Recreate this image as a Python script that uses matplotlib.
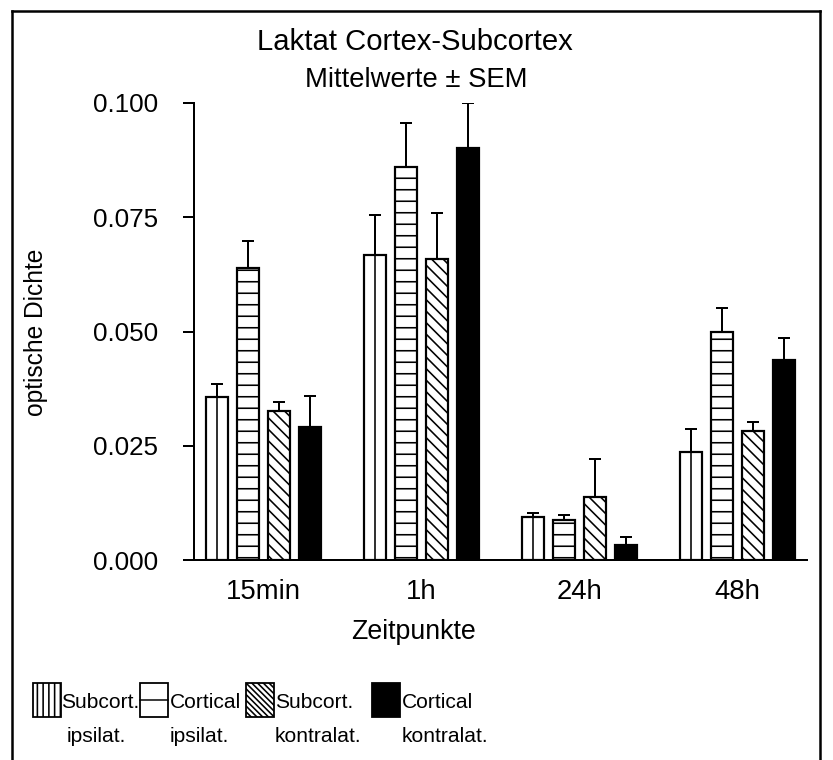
import matplotlib
matplotlib.use("Agg")
import matplotlib.pyplot as plt
import numpy as np
from matplotlib.patches import Rectangle
from matplotlib.lines import Line2D

# ---- data ----
categories = ["15min", "1h", "24h", "48h"]
legend_line1 = ["Subcort.", "Cortical", "Subcort.", "Cortical"]
legend_line2 = ["ipsilat.", "ipsilat.", "kontralat.", "kontralat."]
subcort_ipsi = [0.0356, 0.0667, 0.0095, 0.0237]
cortical_ipsi = [0.0640, 0.0859, 0.0088, 0.0500]
subcort_kontra = [0.0325, 0.0658, 0.0137, 0.0282]
cortical_kontra = [0.0290, 0.0901, 0.0032, 0.0438]
sem_subcort_ipsi = [0.0029, 0.0089, 0.0008, 0.0050]
sem_cortical_ipsi = [0.0059, 0.0097, 0.0010, 0.0051]
sem_subcort_kontra = [0.0020, 0.0102, 0.0084, 0.0021]
sem_cortical_kontra = [0.0068, 0.0100, 0.0019, 0.0048]
yticks = [0.0, 0.025, 0.05, 0.075, 0.1]
ytick_labels = ["0.000", "0.025", "0.050", "0.075", "0.100"]

W, H, DPI = 833, 760, 69
def pt(px):
    return px * 72.0 / DPI
def fx(x):
    return x / W
def fy(y):
    return 1 - y / H

plt.rcParams['font.family'] = ['Liberation Sans', 'DejaVu Sans']
plt.rcParams['hatch.linewidth'] = pt(1.6)

fig = plt.figure(figsize=(W / DPI, H / DPI), dpi=DPI)
ax = fig.add_axes([fx(194), fy(560), fx(807) - fx(194), fy(103) - fy(560)])

values = [subcort_ipsi, cortical_ipsi, subcort_kontra, cortical_kontra]
sems = [sem_subcort_ipsi, sem_cortical_ipsi, sem_subcort_kontra, sem_cortical_kontra]
hatches = [None, '-', '\\\\', None]
faces = ['white', 'white', 'white', 'black']
x = np.arange(len(categories))
step = 0.198
width = 0.139
for i, (vals, err) in enumerate(zip(values, sems)):
    pos = x + (i - 1.5) * step
    ax.bar(pos, vals, width=width, color=faces[i], edgecolor='black',
           hatch=hatches[i], linewidth=pt(2.2), zorder=2)
    if i == 0:
        # vertical hatch line through the middle of each bar
        ax.vlines(pos, 0, vals, colors='black', linewidth=pt(1.6), zorder=2.5)
    ax.errorbar(pos, vals, yerr=[np.zeros(len(vals)), err], fmt='none',
                ecolor='black', elinewidth=pt(2), capsize=pt(6), capthick=pt(2), zorder=3)

ax.set_xlim(-0.44, 3.44)
ax.set_ylim(0, 0.1)
ax.set_yticks(yticks)
ax.set_yticklabels(ytick_labels, fontsize=pt(26))
ax.set_xticks(x)
ax.set_xticklabels(categories, fontsize=pt(27.5))
ax.tick_params(axis='x', length=0, pad=pt(19))
ax.tick_params(axis='y', length=pt(11), width=pt(2), pad=pt(25))
for s in ['top', 'right']:
    ax.spines[s].set_visible(False)
ax.spines['left'].set_linewidth(pt(2))
ax.spines['bottom'].set_linewidth(pt(2))
fig.text(fx(36), fy(332), "optische Dichte", rotation=90, ha='center', va='center', fontsize=pt(24.5))
fig.text(fx(413), fy(632), "Zeitpunkte", ha='center', va='center', fontsize=pt(26.8))

# title
fig.text(fx(415), fy(42), "Laktat Cortex-Subcortex", ha='center', va='center', fontsize=pt(29.3))
fig.text(fx(416), fy(80), "Mittelwerte ± SEM", ha='center', va='center', fontsize=pt(27.5))

# legend (manual)
leg_x = [33, 140, 246, 372]
txt1_x = [61, 170, 275, 402]
txt2_x = [67, 170, 275, 402]
for i in range(4):
    r = Rectangle((fx(leg_x[i]), fy(717)), fx(leg_x[i] + 28) - fx(leg_x[i]), fy(683) - fy(717),
                  transform=fig.transFigure, facecolor=faces[i], edgecolor='black',
                  linewidth=pt(1.8), hatch=(None if i in (1, 3) else ('||' if i == 0 else '\\\\\\\\')))
    fig.add_artist(r)
    if i == 1:
        fig.add_artist(Line2D([fx(leg_x[i]), fx(leg_x[i] + 28)], [fy(700), fy(700)],
                              transform=fig.transFigure, color='black', linewidth=pt(1.5)))
    fig.text(fx(txt1_x[i]), fy(703), legend_line1[i], ha='left', va='center', fontsize=pt(21))
    fig.text(fx(txt2_x[i]), fy(737), legend_line2[i], ha='left', va='center', fontsize=pt(21))

# outer frame
frame_kw = dict(transform=fig.transFigure, color='black', linewidth=pt(2.5))
fig.add_artist(Line2D([fx(12), fx(12)], [0, fy(11)], **frame_kw))
fig.add_artist(Line2D([fx(12), fx(820)], [fy(11), fy(11)], **frame_kw))
fig.add_artist(Line2D([fx(820), fx(820)], [0, fy(11)], **frame_kw))

fig.savefig("out.png", dpi=DPI)
